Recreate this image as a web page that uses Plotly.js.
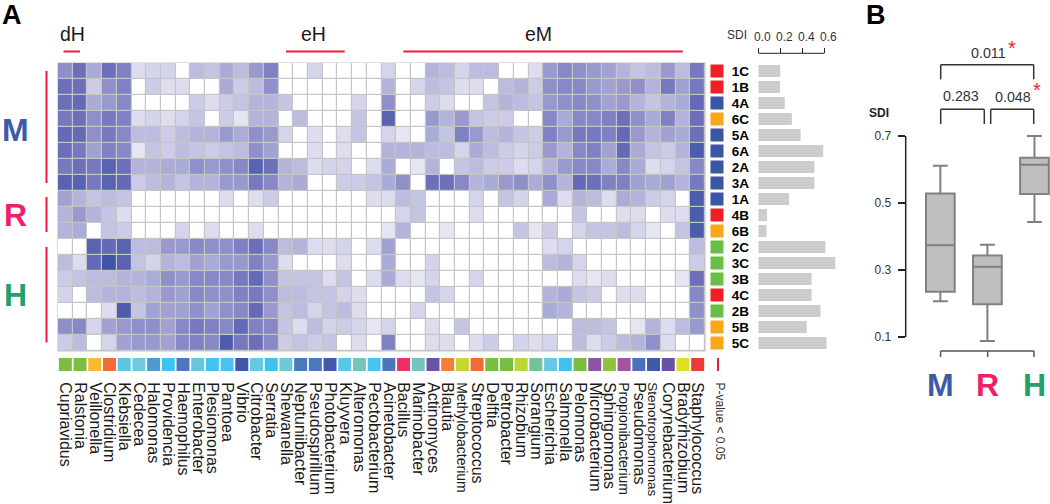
<!DOCTYPE html>
<html>
<head>
<meta charset="utf-8">
<script src="https://cdn.plot.ly/plotly-3.0.1.min.js"></script>
<style>html,body{margin:0;padding:0;background:#fff}#chart{width:1050px;height:504px}</style>
</head>
<body>
<div id="chart"></div>
<script>
const genera = ["Cupriavidus","Ralstonia","Veillonella","Clostridium","Klebsiella","Cedecea","Halomonas","Providencia","Haemophilus","Enterobacter","Plesiomonas","Pantoea","Vibrio","Citrobacter","Serratia","Shewanella","Neptuniibacter","Pseudospirillum","Photobacterium","Kluyvera","Alteromonas","Pectobacterium","Acinetobacter","Bacillus","Marinobacter","Actinomyces","Blautia","Methylobacterium","Streptococcus","Delftia","Petrobacter","Rhizobium","Sorangium","Escherichia","Salmonella","Pelomonas","Microbacterium","Sphingomonas","Propionibacterium","Pseudomonas","Stenotrophomonas","Corynebacterium","Bradyrhizobium","Staphylococcus"];
const generaColors = ["#7dbd42","#7dbd42","#fbb832","#f26a36","#5cc5e4","#6ccbdf","#5299d0","#3fc3ef","#4b78bd","#65c6de","#44c2ee","#48c3ec","#4357a6","#68c8e0","#3fc0ee","#6fc8d2","#4b7abc","#4b7abc","#4358a7","#5bc5e8","#72c5bb","#49c2ee","#4a77b9","#ee2f68","#6fc5c0","#6a54a2","#f67c37","#c4d631","#f26a36","#7abf43","#76bf43","#bcd637","#72c29a","#68c8e4","#40c0f0","#78bd42","#8c55a2","#8ec340","#a5559f","#4a72b8","#4158a6","#6652a2","#dfe022","#ee3a3a"];
const samples = ["1C","1B","4A","6C","5A","6A","2A","3A","1A","4B","6B","2C","3C","3B","4C","2B","5B","5C"];
const sampleColors = ["#ee2024","#ee2024","#3b54a4","#faa61a","#3b54a4","#3b54a4","#3b54a4","#3b54a4","#3b54a4","#ee2024","#faa61a","#6abd45","#6abd45","#6abd45","#ee2024","#6abd45","#faa61a","#faa61a"];
const sdi = [0.2,0.198,0.24,0.305,0.385,0.59,0.51,0.51,0.28,0.08,0.075,0.61,0.70,0.485,0.485,0.565,0.44,0.62];

const r1C=[6,8,4.5,8,7,1.5,2,2,0,3.5,3,4.5,3.5,5.5,7,0,0,2,0,0,0,0,2,0,0,4,3.5,2,3.5,3.5,0,0,1.5,5.5,6.5,6,5.5,5,4,3,3.5,5.5,3.5,7.5];
const r1B=[8,8,2.5,6,7,0,2.5,1.5,1.5,0,0,4.5,2.5,3.5,6,0,0,0,0,0,0,0,4,0,2,3.5,3,1.5,1.5,0,3.5,4,2.5,6,6.5,6.5,5.5,5,5.5,6,4,7.5,5,7.5];
const r4A=[8,8.5,4.5,5.5,6.5,0,0,0,0,2.5,1.5,2.5,3,4,4,3,0,0,0,0,2,0,6,0,0,2.5,1.5,0,0,3,4,3.5,3,5.5,6,6.5,6,5,5.5,4,3,4,4.5,8.5];
const r6C=[7.5,8,6,7.5,7,1.5,2,1.5,2,3,0,2.5,1,4,4,0,3.5,0,0,0,3,0,9,0,0,5.5,4,5.5,3,2.5,2.5,0,0,6.5,4.5,6.5,6.5,7,8,6,4.5,7,4,8];
const r5A=[8.5,8.5,6,7.5,6.5,3.5,3.5,2.5,3.5,4,4,5.5,4.5,6,5.5,2,0,1.5,0,1.5,3,0,2,1,0,4.5,3,7,5.5,3.5,4,3,2.5,7,5.5,7.5,7.5,7,8.5,5.5,4,5,4.5,8];
const r6A=[8,7.5,5,7,6.5,1,3,2.5,3.5,3,2.5,3,3.5,6,5,0,0,1.5,0,1.5,0,0,4,4,4,3.5,3.5,2,4.5,3.5,2.5,2,2.5,5.5,4,6.5,7,5,8.5,4.5,3,2.5,4,9.5];
const r2A=[7.5,8,7.5,9,8,4,4,4.5,4.5,6,5.5,6,6.5,9,8,4,3.5,1.5,2,2,0,1.5,4.5,0,1,4,0,3,3.5,2.5,2.5,1.5,2,4,5.5,6.5,6.5,4.5,6.5,4.5,1.5,2,3,6.5];
const r3A=[9,9,7.5,9,8.5,2.5,3.5,4,3,4,4,5.5,5.5,7.5,6.5,4,4.5,0,0,2.5,2.5,3,4.5,6,0,8,8,6.5,4,4.5,5.5,6,4.5,6,4,8.5,8,7,7,5,4.5,5,4,7.5];
const r1A=[5,4,3,3.5,3,0,0,0,0,0,0,1.5,0,1.5,2.5,0,0,0,0,0,0,1.5,1.5,3.5,3,0,0,0,2,0,3,2,0,4.5,1.5,4,3.5,1.5,4.5,4,2.5,2,0,9.5];
const r4B=[4,5.5,4,3,1.5,0,0,0,0,0,0,0,0,0,0,0,0,0,0,0,0,0,0,2,3,0,0,0,1.5,0,0,0,0,0,0,3,0,0,1.5,1.5,0,1.5,1.5,9.5];
const r6B=[4,4.5,0,3,2.5,0,0,0,2,0,1.5,0,0,1.5,0,0,0,0,0,0,0,0,1,4,0,0,1,0,0,0,0,3,1,2.5,0,2,3,3,3.5,2,1,0,3,9.5];
const r2C=[0,0,9,8.5,9,3.5,3.5,5.5,5.5,6.5,6,6,7,8,6.5,3.5,4,1.5,1.5,2,0,1.5,5,0,0,0,0,0,0,0,0,0,0,1.5,2,0,0,0,0,0,0,0,0,3.5];
const r3C=[3.5,1.5,8.5,10,9,3,2,4,3.5,5,4.5,5.5,5.5,7,5.5,1.5,0,0,0,1.5,0,0,4.5,0,0,2,0,0,0,0,0,0,0,3.5,4,2,0,0,0,0,0,0,0,2.5];
const r3B=[2.5,3,3.5,3.5,4,4,4.5,6,5.5,6.5,6.5,6.5,7.5,8.5,6,3,3,3,1.5,3,0,1.5,4.5,1.5,1,2,0,0,2,0,0,0,0,0,0,1.5,1,1.5,0,0,0,0,1,8];
const r4C=[2,0,3.5,4,4,3.5,4,5.5,5,6.5,6,6,7,7.5,6,3.5,3.5,3,3,2,1.5,0,0,0,0,3,2,0,0,0,0,0,0,4,4.5,3,2.5,0,1.5,1.5,0,0,0,6.5];
const r2B=[0,0,0,1.5,9.5,3,5,5,5,6,5,6,6.5,8.5,5.5,3,3.5,2,3,3.5,1.5,0,0,0,2,0,0,0,0,0,0,0,0,4.5,4,0,0,0,0,0,0,0,0,6];
const r5B=[6,6.5,2,5,5.5,6,6,5,6.5,7.5,7,6.5,8.5,7,6.5,3,1.5,3.5,2,2.5,2,1,2,0,0,1.5,0,3,0,0,0,0,0,0,0,3.5,3.5,3,0,1,4,1.5,3.5,5.5];
const r5C=[2.5,3.5,0,2,5,5.5,5.5,5,6.5,7,6.5,9.5,7.5,8,6.5,2.5,3,2.5,3,0,1.5,0,7,0,0,1.5,1.5,0,1.5,2.5,0,2,1.5,2,0,3.5,1.5,2.5,3.5,4,6,1.5,0,0];
const heatRows=[r1C,r1B,r4A,r6C,r5A,r6A,r2A,r3A,r1A,r4B,r6B,r2C,r3C,r3B,r4C,r2B,r5B,r5C];

const groups = ["M","R","H"];
const groupColors = ["#3b5ba8","#ee1f6b","#22a06b"];
const boxUpper = [0.611,0.375,0.70];
const boxQ3 = [0.528,0.343,0.635];
const boxMedian = [0.374,0.31,0.614];
const boxQ1 = [0.235,0.198,0.527];
const boxLower = [0.207,0.088,0.443];

const W=1050,H=504;
const px=x=>x/W, py=y=>1-y/H;
const font="Liberation Sans, Arial, sans-serif";
const condensed={Methylobacterium:14,Propionibacterium:14,Stenotrophomonas:13.5};

const traces=[
 {type:"heatmap",x:genera,y:samples,z:heatRows,xgap:1.2,ygap:1.2,zmin:0,zmax:10,showscale:false,hoverongaps:false,
  colorscale:[[0,"#ffffff"],[0.1,"#e6e6f3"],[0.2,"#d4d4eb"],[0.3,"#c4c4e3"],[0.4,"#b4b4db"],[0.5,"#a2a2d2"],[0.6,"#8f90ca"],[0.7,"#7f81c2"],[0.8,"#6d70b9"],[0.9,"#5a63b0"],[1,"#3f55a5"]],
  xaxis:"x",yaxis:"y"},
 {type:"scatter",mode:"markers",x:samples.map(()=>0),y:samples,xaxis:"x2",yaxis:"y2",
  marker:{symbol:"square",size:13,color:sampleColors,line:{width:0}}},
 {type:"scatter",mode:"markers",x:genera,y:genera.map(()=>0),xaxis:"x3",yaxis:"y3",
  marker:{symbol:"square",size:13,color:generaColors,line:{width:0}}},
 {type:"bar",orientation:"h",x:sdi,y:samples,xaxis:"x4",yaxis:"y4",width:0.76,
  marker:{color:"#cccccc",line:{width:0}}},
 {type:"box",x:groups,q1:boxQ1,median:boxMedian,q3:boxQ3,lowerfence:boxLower,upperfence:boxUpper,
  xaxis:"x5",yaxis:"y5",width:0.61,whiskerwidth:0.52,fillcolor:"#bfbfbf",line:{color:"#808080",width:2},boxpoints:false}
];

const rowAxis={domain:[py(351),py(63)],range:[17.5,-0.5],showticklabels:false,ticks:"",showgrid:false,zeroline:false,showline:false,type:"category"};
const hidden={showticklabels:false,ticks:"",showgrid:false,zeroline:false,showline:false};

function seg(x0,y0,x1,y1,color,width){
  return {type:"line",xref:"paper",yref:"paper",x0:px(x0),x1:px(x1),y0:py(y0),y1:py(y1),line:{color:color,width:width}};
}
const red="#ed1c3a", dark="#333333";
const xM=940.6,xR=987.7,xH=1034;
const shapes=[
 {type:"rect",xref:"paper",yref:"paper",layer:"below",x0:px(57.4),x1:px(705.6),y0:py(351.6),y1:py(62.4),fillcolor:"#c4c4c9",line:{width:0}},
 seg(46.5,71,46.5,183,red,2), seg(46.5,197,46.5,232,red,2), seg(46.5,247,46.5,342.5,red,2),
 seg(63.5,51.5,80,51.5,red,2), seg(286,51.5,344.7,51.5,red,2), seg(403.3,51.5,682.8,51.5,red,2),
 seg(718,358,718,371,red,2),
 seg(940.7,79.3,940.7,64.7,dark,1.5), seg(940.7,64.7,1033.7,64.7,dark,1.5), seg(1033.7,64.7,1033.7,79.3,dark,1.5),
 seg(940.7,124,940.7,109.3,dark,1.5), seg(940.7,109.3,984.3,109.3,dark,1.5), seg(984.3,109.3,984.3,124,dark,1.5),
 seg(990.7,124,990.7,109.3,dark,1.5), seg(990.7,109.3,1033.7,109.3,dark,1.5), seg(1033.7,109.3,1033.7,124,dark,1.5),
 seg(xM,351,xH,351,"#555555",1.5), seg(xM,351,xM,357,"#555555",1.5), seg(xR,351,xR,357,"#555555",1.5), seg(xH,351,xH,357,"#555555",1.5),
 {type:"line",xref:"x4",yref:"paper",x0:0,x1:0.6,y0:py(53.3),y1:py(53.3),line:{color:"#222222",width:1}},
 {type:"line",xref:"paper",yref:"y5",x0:px(905.7),x1:px(905.7),y0:0.1,y1:0.7,line:{color:"#222222",width:1.5}}
];

function note(text,x,y,size,color,opts){
  return Object.assign({text:text,xref:"paper",yref:"paper",x:px(x),y:py(y),xanchor:"center",yanchor:"middle",showarrow:false,
    font:{family:font,size:size,color:color}},opts||{});
}
const annotations=[
 note("<b>A</b>",11.5,15,27,"#000"), note("<b>B</b>",875.5,15,27,"#000"),
 note("<b>M</b>",15.5,130,32,groupColors[0]), note("<b>R</b>",15.5,215,32,groupColors[1]), note("<b>H</b>",15,295,32,groupColors[2]),
 note("dH",72.5,34,19.5,"#1a1a1a"), note("eH",313,34,19.5,"#1a1a1a"), note("eM",538,34,19.5,"#1a1a1a"),
 note("SDI",737,35,12,dark),
 note("P-value &lt; 0.05",719.5,421,12,dark,{textangle:90}),
 note("<b>SDI</b>",879,113.5,12,"#222"),
 note("0.011",988,52.7,14.3,dark), note("0.283",961.3,96,14.3,dark), note("0.048",1012.8,96.5,14.3,dark),
 note("*",1012,48,20,red), note("*",1037,90,20,red),
 note("<b>M</b>",940.3,385,32,groupColors[0]), note("<b>R</b>",987.7,385,32,groupColors[1]), note("<b>H</b>",1034.3,385,32,groupColors[2])
];

const layout={
 width:W,height:H,margin:{l:0,r:0,t:0,b:0},paper_bgcolor:"#fff",plot_bgcolor:"rgba(0,0,0,0)",showlegend:false,
 font:{family:font},
 xaxis:Object.assign({domain:[px(58),px(705)],range:[-0.5,43.5],type:"category",categoryorder:"array",categoryarray:genera,anchor:"y"},hidden),
 yaxis:Object.assign({},rowAxis,{anchor:"x"}),
 xaxis2:Object.assign({domain:[px(709),px(725)],range:[-0.5,0.5],anchor:"y2"},hidden),
 yaxis2:Object.assign({},rowAxis,{anchor:"x2",side:"right",showticklabels:true,tickmode:"array",tickvals:samples,ticktext:samples,
   ticks:"outside",ticklen:3,tickcolor:"rgba(0,0,0,0)",tickfont:{family:font,size:13.5,color:"#000",weight:"bold"}}),
 xaxis3:{domain:[px(58),px(705)],range:[-0.5,43.5],type:"category",categoryorder:"array",categoryarray:genera,anchor:"y3",
   tickmode:"array",tickvals:genera,
   ticktext:genera.map(g=>condensed[g]?'<span style="font-size:'+condensed[g]+'px">'+g+'</span>':g),
   tickangle:90,ticks:"outside",ticklen:6,tickcolor:"rgba(0,0,0,0)",showline:false,showgrid:false,zeroline:false,
   tickfont:{family:font,size:16,color:"#1a1a1a"}},
 yaxis3:Object.assign({domain:[py(372),py(357)],range:[-0.5,0.5],anchor:"x3"},hidden),
 xaxis4:{domain:[px(758.3),px(846.3)],range:[0,0.8],anchor:"free",position:py(53.3),side:"top",
   tickmode:"array",tickvals:[0,0.2,0.4,0.6],ticktext:["0.0","0.2","0.4","0.6"],ticks:"outside",ticklen:5,tickwidth:1,tickcolor:"#222",
   ticklabelshift:4,ticklabelstandoff:3,
   showline:false,showgrid:false,zeroline:false,tickfont:{family:font,size:12,color:dark}},
 yaxis4:Object.assign({},rowAxis,{anchor:"x4"}),
 xaxis5:Object.assign({domain:[px(905.7),1],range:[-0.736,2.33],type:"category",categoryorder:"array",categoryarray:groups,anchor:"y5"},hidden),
 yaxis5:{domain:[py(350),py(122)],range:[0.1-13/335,0.7+14/335],anchor:"x5",tickmode:"array",tickvals:[0.1,0.3,0.5,0.7],ticktext:["0.1","0.3","0.5","0.7"],
   ticks:"outside",ticklen:7,tickwidth:1.5,tickcolor:"#222",ticklabelstandoff:4,showline:false,showgrid:false,zeroline:false,tickfont:{family:font,size:12,color:dark}},
 shapes:shapes,annotations:annotations
};
Plotly.newPlot("chart",traces,layout,{displayModeBar:false,responsive:false});
</script>
</body>
</html>
